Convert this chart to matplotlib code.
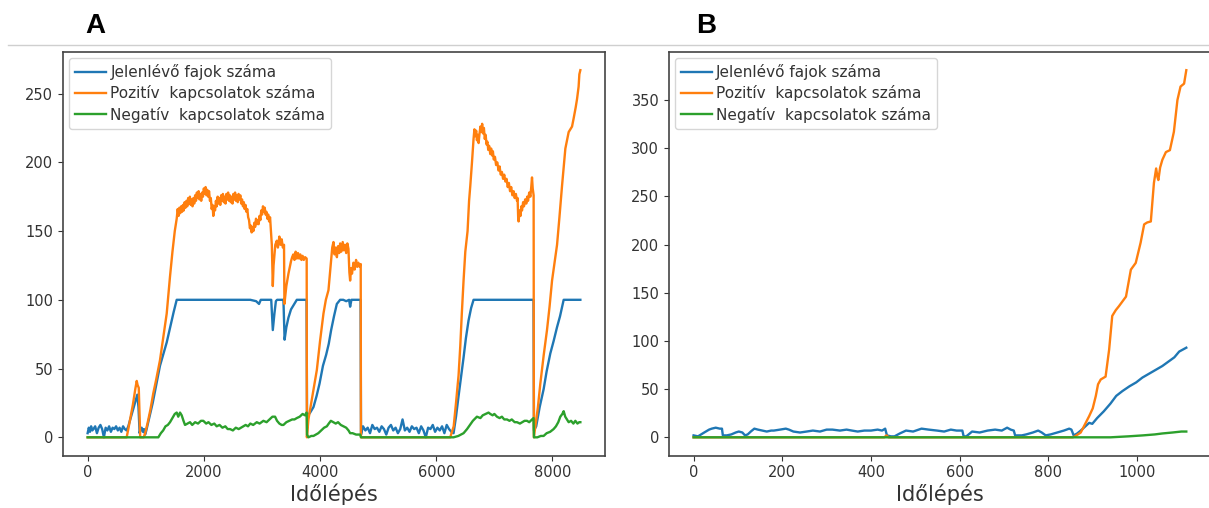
import matplotlib
matplotlib.use("Agg")
import matplotlib.pyplot as plt
from matplotlib.lines import Line2D

# ---------------- Panel A data ----------------
jelen_a_t = [0, 20, 40, 60, 80, 100, 130, 160, 190, 220, 250, 280, 310, 340, 370, 400, 430, 460, 490, 520,
             550, 580, 610, 640, 670, 700, 740, 780, 820, 855, 875, 895, 910, 930, 950, 970, 990, 1010, 1060,
             1120, 1180, 1245, 1300, 1361, 1420, 1480, 1533, 1600, 1800, 2000, 2200, 2400, 2600, 2800, 2900,
             2950, 2980, 3100, 3160, 3187, 3215, 3240, 3260, 3370, 3390, 3420, 3456, 3500, 3571, 3600, 3700,
             3768, 3776, 3830, 3887, 3940, 3991, 4050, 4105, 4150, 4191, 4240, 4289, 4346, 4400, 4450, 4500,
             4518, 4540, 4600, 4698, 4705, 4740, 4780, 4820, 4860, 4900, 4940, 4980, 5020, 5060, 5100, 5140,
             5180, 5220, 5260, 5300, 5340, 5380, 5420, 5460, 5500, 5540, 5580, 5620, 5660, 5700, 5740, 5780,
             5820, 5860, 5900, 5940, 5980, 6020, 6060, 6100, 6140, 6180, 6220, 6260, 6298, 6340, 6384, 6430,
             6470, 6510, 6556, 6600, 6642, 7000, 7300, 7600, 7674, 7682, 7720, 7780, 7848, 7900, 7963, 8020,
             8078, 8130, 8193, 8300, 8400, 8480]
jelen_a = [3, 7, 4, 8, 5, 6, 8, 3, 7, 9, 6, 0, 7, 5, 8, 4, 7, 6, 8, 5,
           7, 4, 8, 6, 5, 8, 14, 20, 26, 31, 22, 3, 6, 7, 4, 6, 2, 5, 14,
           25, 38, 52, 60, 69, 80, 91, 100, 100, 100, 100, 100, 100, 100, 100, 99,
           97, 100, 100, 100, 78, 90, 99, 100, 100, 71, 80, 87, 93, 98, 100, 100,
           100, 15, 18, 22, 30, 39, 52, 60, 68, 78, 88, 97, 100, 100, 99, 100,
           95, 100, 100, 100, 2, 8, 5, 7, 3, 9, 6, 7, 4, 8, 6, 2,
           7, 9, 5, 7, 3, 6, 13, 5, 7, 4, 8, 6, 7, 3, 8, 5,
           0, 7, 6, 9, 4, 7, 5, 8, 3, 9, 6, 4, 3, 15, 30, 45,
           58, 72, 85, 94, 100, 100, 100, 100, 100, 5, 8, 22, 35, 48, 61, 70,
           80, 88, 100, 100, 100, 100]

pozitiv_a_t = [0, 672, 700, 740, 780, 820, 845, 860, 880, 895, 905, 965, 990, 1030, 1080, 1130, 1180, 1245,
               1300, 1361, 1418, 1460, 1500, 1533, 1550, 1565, 1580, 1595, 1610, 1625, 1640, 1655, 1670, 1685,
               1700, 1715, 1730, 1745, 1760, 1775, 1790, 1805, 1820, 1835, 1850, 1865, 1880, 1895, 1910, 1925,
               1940, 1955, 1970, 1985, 2000, 2015, 2030, 2045, 2060, 2075, 2090, 2105, 2120, 2135, 2150, 2163,
               2178, 2193, 2208, 2223, 2238, 2253, 2268, 2283, 2298, 2313, 2328, 2343, 2358, 2373, 2388, 2403,
               2418, 2433, 2448, 2463, 2478, 2493, 2508, 2523, 2538, 2553, 2568, 2583, 2598, 2613, 2628, 2643,
               2658, 2673, 2688, 2703, 2718, 2733, 2748, 2763, 2778, 2793, 2808, 2823, 2838, 2853, 2868, 2883,
               2898, 2913, 2928, 2943, 2958, 2973, 2988, 3003, 3018, 3033, 3048, 3063, 3078, 3093, 3108, 3123,
               3140, 3170, 3187, 3200, 3230, 3256, 3275, 3300, 3320, 3340, 3360, 3380, 3387, 3420, 3456, 3480,
               3500, 3520, 3540, 3560, 3580, 3600, 3620, 3640, 3660, 3680, 3700, 3720, 3743, 3770, 3774, 3800,
               3860, 3945, 4000, 4059, 4100, 4145, 4190, 4210, 4231, 4250, 4270, 4290, 4310, 4330, 4346, 4365,
               4390, 4410, 4430, 4450, 4470, 4489, 4505, 4518, 4535, 4550, 4575, 4595, 4620, 4640, 4660, 4680,
               4700, 4704, 6241, 6300, 6340, 6384, 6413, 6440, 6470, 6500, 6539, 6565, 6586, 6615, 6642, 6657,
               6672, 6687, 6700, 6715, 6729, 6745, 6760, 6775, 6790, 6805, 6820, 6835, 6850, 6865, 6880, 6895,
               6910, 6930, 6945, 6960, 6975, 6990, 7010, 7030, 7050, 7073, 7090, 7110, 7130, 7150, 7170, 7190,
               7210, 7230, 7250, 7270, 7290, 7310, 7331, 7350, 7370, 7390, 7400, 7410, 7417, 7435, 7450, 7465,
               7476, 7495, 7510, 7530, 7550, 7565, 7580, 7600, 7620, 7635, 7648, 7660, 7670, 7676, 7680, 7705,
               7750, 7791, 7850, 7906, 7950, 7993, 8040, 8079, 8120, 8165, 8222, 8279, 8337, 8365, 8400, 8423,
               8450, 8463, 8480]
pozitiv_a = [0, 0, 6, 15, 24, 35, 41, 38, 36, 15, 0, 0, 3, 10, 20, 32, 42, 56,
             72, 90, 117, 135, 150, 159, 166, 161, 167, 163, 168, 164, 169, 165, 171, 167,
             172, 168, 174, 170, 175, 169, 173, 168, 174, 170, 176, 172, 178, 174, 179, 173,
             177, 172, 178, 175, 181, 177, 182, 176, 180, 175, 179, 172, 174, 166, 169, 161,
             168, 165, 172, 168, 175, 170, 174, 169, 176, 172, 177, 171, 175, 170, 177, 173,
             178, 172, 176, 171, 175, 170, 177, 173, 178, 172, 176, 171, 177, 173, 176, 170,
             173, 168, 171, 166, 169, 164, 166, 160, 158, 152, 154, 149, 153, 150, 156, 153,
             159, 155, 158, 155, 161, 158, 165, 162, 168, 164, 167, 162, 164, 159, 162, 157,
             160, 140, 110, 125, 140, 143, 138, 146, 140, 144, 138, 140, 97, 110, 119, 124,
             128, 131, 133, 129, 135, 130, 134, 130, 133, 129, 132, 129, 131, 130, 0, 13,
             28, 49, 70, 90, 100, 107, 128, 138, 142, 133, 138, 131, 139, 134, 141, 135,
             142, 136, 140, 134, 141, 137, 120, 114, 123, 119, 127, 122, 129, 124, 127, 124,
             126, 0, 0, 8, 25, 45, 66, 90, 114, 135, 150, 172, 183, 200, 217, 224,
             219, 223, 216, 220, 214, 221, 226, 222, 228, 221, 225, 217, 220, 213, 215, 209,
             212, 206, 210, 205, 208, 202, 204, 198, 200, 194, 197, 191, 193, 188, 191, 186,
             188, 182, 185, 179, 182, 176, 179, 174, 177, 172, 174, 160, 157, 165, 161, 168,
             165, 171, 168, 173, 170, 175, 172, 178, 175, 182, 189, 181, 178, 176, 0, 8,
             22, 39, 60, 78, 95, 114, 128, 140, 160, 183, 210, 222, 226, 232, 240, 246,
             255, 264, 267]

negativ_a_t = [0, 1217, 1260, 1300, 1340, 1380, 1418, 1460, 1500, 1533, 1560, 1590, 1619, 1650, 1676, 1720,
               1762, 1800, 1850, 1900, 1950, 1991, 2040, 2080, 2130, 2180, 2221, 2270, 2320, 2370, 2410, 2451,
               2500, 2550, 2600, 2640, 2681, 2720, 2760, 2800, 2850, 2911, 2960, 3025, 3080, 3130, 3180, 3226,
               3260, 3300, 3340, 3370, 3420, 3470, 3520, 3560, 3600, 3650, 3700, 3740, 3770, 3776, 3800, 3850,
               3887, 3930, 3970, 4020, 4070, 4117, 4150, 4186, 4230, 4270, 4310, 4357, 4403, 4450, 4490, 4518,
               4560, 4620, 4690, 4705, 6298, 6380, 6470, 6530, 6580, 6630, 6700, 6760, 6800, 6850, 6900, 6930,
               6970, 7000, 7045, 7090, 7130, 7170, 7218, 7260, 7300, 7350, 7390, 7440, 7480, 7520, 7562, 7600,
               7648, 7674, 7682, 7740, 7800, 7848, 7900, 7960, 8020, 8060, 8100, 8135, 8170, 8193, 8220, 8250,
               8279, 8320, 8360, 8394, 8430, 8460, 8480]
negativ_a = [0, 0, 3, 5, 8, 9, 11, 14, 17, 18, 15, 18, 16, 12, 9, 10,
             11, 9, 11, 10, 12, 12, 10, 11, 9, 10, 8, 9, 7, 8, 6, 6,
             5, 7, 6, 7, 8, 9, 8, 10, 9, 11, 10, 12, 11, 13, 15, 15,
             12, 10, 9, 9, 11, 12, 13, 13, 14, 15, 17, 16, 18, 2, 0, 1,
             1, 2, 3, 5, 7, 8, 10, 12, 11, 10, 11, 9, 8, 7, 5, 3,
             3, 2, 2, 0, 0, 1, 3, 6, 9, 12, 15, 14, 16, 17, 18, 17,
             16, 17, 15, 14, 15, 13, 13, 12, 13, 11, 11, 10, 11, 12, 12, 11,
             13, 14, 0, 0, 1, 1, 3, 4, 6, 8, 11, 15, 17, 19, 15, 13,
             11, 12, 10, 12, 10, 11, 11]

# ---------------- Panel B data ----------------
jelen_b_t = [0, 10, 24, 35, 41, 50, 59, 64, 66, 75, 85, 95, 102, 110, 116, 122, 129, 137, 145, 155, 165, 175,
             181, 195, 208, 215, 225, 240, 255, 269, 285, 300, 313, 330, 345, 357, 370, 385, 400, 415, 425,
             432, 436, 445, 453, 465, 479, 495, 514, 530, 549, 565, 580, 593, 606, 609, 615, 628, 645, 663,
             680, 695, 707, 715, 722, 725, 740, 750, 765, 777, 785, 794, 805, 820, 835, 847, 852, 857, 865,
             873, 892, 899, 910, 925, 940, 953, 967, 983, 998, 1012, 1027, 1042, 1057, 1072, 1084, 1095,
             1103, 1111]
jelen_b = [2, 1, 5, 8, 9, 10, 9, 9, 2, 2, 3, 5, 6, 5, 2, 3, 6, 9, 8, 7, 6, 7,
           7, 8, 9, 8, 6, 5, 6, 7, 6, 8, 8, 7, 8, 7, 6, 7, 7, 8, 7,
           9, 2, 1, 1, 4, 7, 6, 9, 8, 7, 6, 8, 7, 7, 1, 1, 6, 5, 7,
           8, 7, 10, 8, 7, 2, 2, 3, 5, 7, 5, 2, 3, 5, 7, 9, 8, 2, 4,
           7, 15, 14, 20, 27, 35, 43, 48, 53, 57, 62, 66, 70, 74, 79, 83, 89,
           91, 93]

pozitiv_b_t = [0, 430, 435, 440, 855, 860, 873, 892, 900, 907, 912, 918, 929, 937, 944, 952, 959, 967, 975,
               986, 997, 1008, 1016, 1023, 1031, 1038, 1043, 1046, 1048, 1052, 1057, 1065, 1074, 1083, 1091,
               1098, 1106, 1111]
pozitiv_b = [0, 0, 2, 0, 0, 1, 5, 22, 30, 43, 55, 60, 63, 91, 126, 132, 136, 141, 146,
             174, 181, 202, 221, 223, 224, 264, 279, 270, 267, 280, 288, 296, 298, 317, 350,
             364, 367, 381]

negativ_b_t = [0, 940, 980, 1013, 1040, 1057, 1080, 1100, 1111]
negativ_b = [0, 0, 1, 2, 3, 4, 5, 6, 6]

labels = ["Jelenlévő fajok száma", "Pozitív  kapcsolatok száma", "Negatív  kapcsolatok száma"]
colors = ["#1f77b4", "#ff7f0e", "#2ca02c"]
xlabel = "Időlépés"

plt.rcParams['font.family'] = ['DejaVu Sans']

fig = plt.figure(figsize=(12.09, 5.08), dpi=100)
axA = fig.add_axes([0.0521, 0.103, 0.4483, 0.795])
axB = fig.add_axes([0.5533, 0.103, 0.4483, 0.795])

panels = [
    (axA, [(jelen_a_t, jelen_a), (pozitiv_a_t, pozitiv_a), (negativ_a_t, negativ_a)], [0, 2000, 4000, 6000, 8000]),
    (axB, [(jelen_b_t, jelen_b), (pozitiv_b_t, pozitiv_b), (negativ_b_t, negativ_b)], [0, 200, 400, 600, 800, 1000]),
]

for ax, series, xt in panels:
    for (t, v), lab, c in zip(series, labels, colors):
        ax.plot(t, v, color=c, lw=1.7, label=lab)
    ax.set_xticks(xt)
    ax.tick_params(labelsize=10.5, colors="#333333")
    ax.set_xlabel(xlabel, fontsize=15, color="#333333", labelpad=2)
    for s in ax.spines.values():
        s.set_color("#444444")
        s.set_linewidth(1.2)
    leg = ax.legend(loc="upper left", fontsize=11, handlelength=2.0, borderaxespad=0.4,
                    labelspacing=0.35, handletextpad=0.3)
    for txt in leg.get_texts():
        txt.set_color("#333333")

axA.set_yticks([0, 50, 100, 150, 200, 250])
axB.set_yticks([0, 50, 100, 150, 200, 250, 300, 350])

fig.add_artist(Line2D([0.007, 1.0], [0.911, 0.911], transform=fig.transFigure,
                      color="#cfcfcf", lw=1.0))
fig.text(0.079, 0.948, "A", fontsize=20, fontweight="bold", ha="center", va="center",
         family="Liberation Sans")
fig.text(0.584, 0.948, "B", fontsize=20, fontweight="bold", ha="center", va="center",
         family="Liberation Sans")

fig.savefig("out.png", dpi=100)
